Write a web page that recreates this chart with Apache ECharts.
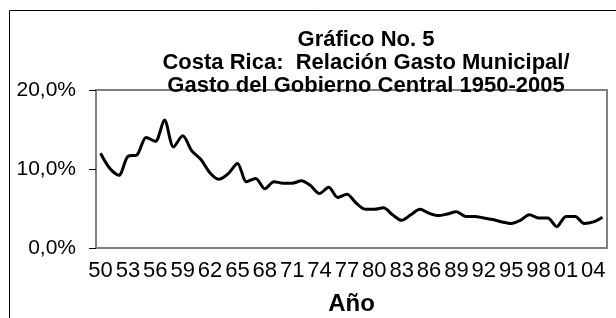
<!DOCTYPE html>
<html>
    <head>
        <meta charset="utf-8">
        <title>Gráfico No. 5</title>
        <style>
            html, body { margin: 0; padding: 0; background: #fff; }
            #main { width: 616px; height: 318px; }
        </style>
    </head>
    <body>
        <div id="main"></div>
        <script src="https://cdn.jsdelivr.net/npm/echarts@6/dist/echarts.min.js"></script>
        <script type="text/javascript">
        var years = ['50','51','52','53','54','55','56','57','58','59',
                     '60','61','62','63','64','65','66','67','68','69',
                     '70','71','72','73','74','75','76','77','78','79',
                     '80','81','82','83','84','85','86','87','88','89',
                     '90','91','92','93','94','95','96','97','98','99',
                     '00','01','02','03','04','05'];
        // gasto municipal / gasto gobierno central, en %
        var ratio = [12.0, 10.1, 9.2, 11.6, 11.8, 14.0, 13.5, 16.2, 12.8, 14.2,
                     12.3, 11.2, 9.5, 8.7, 9.4, 10.7, 8.4, 8.8, 7.5, 8.4,
                     8.2, 8.2, 8.5, 7.9, 6.9, 7.7, 6.4, 6.8, 5.7, 4.9,
                     4.9, 5.1, 4.2, 3.5, 4.2, 4.9, 4.4, 4.1, 4.3, 4.6,
                     4.0, 4.0, 3.8, 3.6, 3.3, 3.1, 3.5, 4.2, 3.8, 3.8,
                     2.7, 4.0, 4.0, 3.1, 3.3, 3.9];
        var titleLines = ['Gráfico No. 5',
                          'Costa Rica:  Relación Gasto Municipal/',
                          'Gasto del Gobierno Central 1950-2005'];

        var font = 'Liberation Sans, Arial, sans-serif';
        var myChart = echarts.init(document.getElementById('main'));
        var option = {
            backgroundColor: '#fff',
            animation: false,
            grid: {
                left: 96,
                right: 9,
                top: 90,
                bottom: 70,
                show: true,
                borderColor: '#808080',
                borderWidth: 2,
                backgroundColor: '#fff'
            },
            graphic: [{
                type: 'rect',
                shape: { x: 9.5, y: 10.5, width: 700, height: 400 },
                style: { fill: null, stroke: '#000', lineWidth: 1 },
                z: -1
            }, {
                type: 'text',
                x: 366,
                y: 28,
                style: {
                    text: titleLines.join('\n'),
                    font: 'bold 22px ' + font,
                    lineHeight: 23,
                    fill: '#000',
                    align: 'center'
                },
                z: 10
            }],
            xAxis: {
                type: 'category',
                data: years,
                boundaryGap: true,
                name: 'Año',
                nameLocation: 'middle',
                nameGap: 44,
                nameTextStyle: {
                    color: '#000',
                    fontFamily: font,
                    fontWeight: 'bold',
                    fontSize: 24
                },
                axisLine: { lineStyle: { color: '#808080', width: 2 } },
                axisTick: {
                    interval: 0,
                    length: 6,
                    lineStyle: { color: '#000', width: 1 }
                },
                axisLabel: {
                    interval: 2,
                    margin: 12,
                    color: '#000',
                    fontFamily: font,
                    fontSize: 22
                },
                splitLine: { show: false }
            },
            yAxis: {
                type: 'value',
                min: 0,
                max: 20,
                interval: 10,
                axisLine: { show: true, lineStyle: { color: '#808080', width: 2 } },
                axisTick: {
                    show: true,
                    length: 7,
                    lineStyle: { color: '#000', width: 1 }
                },
                axisLabel: {
                    margin: 20,
                    color: '#000',
                    fontFamily: font,
                    fontSize: 21,
                    formatter: function (v) {
                        return v.toFixed(1).replace('.', ',') + '%';
                    }
                },
                splitLine: { show: false }
            },
            series: [{
                type: 'line',
                data: ratio,
                smooth: 0.3,
                symbol: 'none',
                lineStyle: { color: '#000', width: 3 }
            }]
        };
        myChart.setOption(option);
        </script>
    </body>
</html>
